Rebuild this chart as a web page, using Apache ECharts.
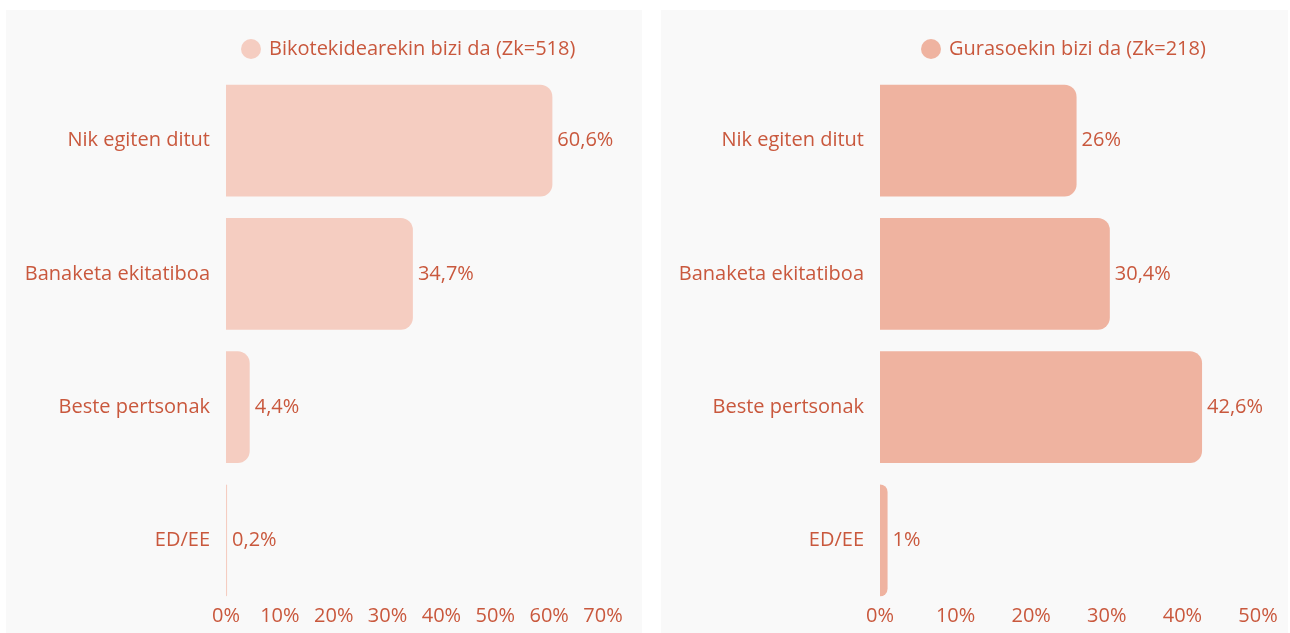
<!DOCTYPE html>
<html>
<head>
<meta charset="utf-8">
<script src="https://cdn.jsdelivr.net/npm/echarts@6/dist/echarts.min.js"></script>
<style>
  html, body { margin: 0; padding: 0; background: #ffffff; }
  #wrap { position: relative; width: 1290px; height: 633px; }
  .panel { position: absolute; top: 10px; height: 623px; background: #f9f9f9; }
  #chart { position: absolute; left: 0; top: 0; width: 1290px; height: 633px; }
</style>
</head>
<body>
<div id="wrap">
  <div class="panel" style="left:6px;width:636px"></div>
  <div class="panel" style="left:661px;width:627px"></div>
  <div id="chart"></div>
</div>
<script>
  const categories = ["Nik egiten ditut", "Banaketa ekitatiboa", "Beste pertsonak", "ED/EE"];
  const leftName = "Bikotekidearekin bizi da (Zk=518)";
  const leftValues = [60.6, 34.7, 4.4, 0.2];
  const rightName = "Gurasoekin bizi da (Zk=218)";
  const rightValues = [26, 30.4, 42.6, 1];

  const textColor = "#c9583d";
  const font = "'Open Sans', 'Noto Sans', sans-serif";
  const fs = 20;
  const fmt = (v) => String(v).replace(".", ",") + "%";

  const myChart = echarts.init(document.getElementById("chart"));

  const makeX = (idx, max) => ({
    type: "value",
    gridIndex: idx,
    min: 0,
    max: max,
    interval: 10,
    splitLine: { show: false },
    axisLine: { show: false },
    axisTick: { show: false },
    axisLabel: {
      color: textColor,
      fontSize: fs,
      fontFamily: font,
      margin: -1,
      formatter: "{value}%",
    },
  });

  const makeY = (idx) => ({
    type: "category",
    gridIndex: idx,
    data: categories,
    inverse: true,
    axisLine: { show: false },
    axisTick: { show: false },
    axisLabel: {
      color: textColor,
      fontSize: fs,
      fontFamily: font,
      margin: 16,
    },
  });

  const makeSeries = (idx, name, data, color) => ({
    name: name,
    type: "bar",
    xAxisIndex: idx,
    yAxisIndex: idx,
    data: data,
    barWidth: "84%",
    itemStyle: { color: color, borderRadius: [0, 12, 12, 0] },
    label: {
      show: true,
      position: "right",
      distance: 5,
      color: textColor,
      fontSize: fs,
      fontFamily: font,
      formatter: (p) => fmt(p.value),
    },
  });

  const makeLegend = (name, left) => ({
    data: [name],
    left: left,
    top: 34,
    icon: "circle",
    itemWidth: 20,
    itemHeight: 20,
    itemGap: 8,
    textStyle: { color: textColor, fontSize: fs, fontFamily: font, padding: [0, 0, 0, 3] },
  });

  let option = {
    animation: false,
    legend: [makeLegend(leftName, 236), makeLegend(rightName, 916)],
    grid: [
      { left: 226, top: 74, width: 377, height: 533 },
      { left: 880, top: 74, width: 378, height: 533 },
    ],
    xAxis: [makeX(0, 70), makeX(1, 50)],
    yAxis: [makeY(0), makeY(1)],
    series: [
      makeSeries(0, leftName, leftValues, "#f5cdc1"),
      makeSeries(1, rightName, rightValues, "#efb3a0"),
    ],
  };
  myChart.setOption(option);
</script>
</body>
</html>
